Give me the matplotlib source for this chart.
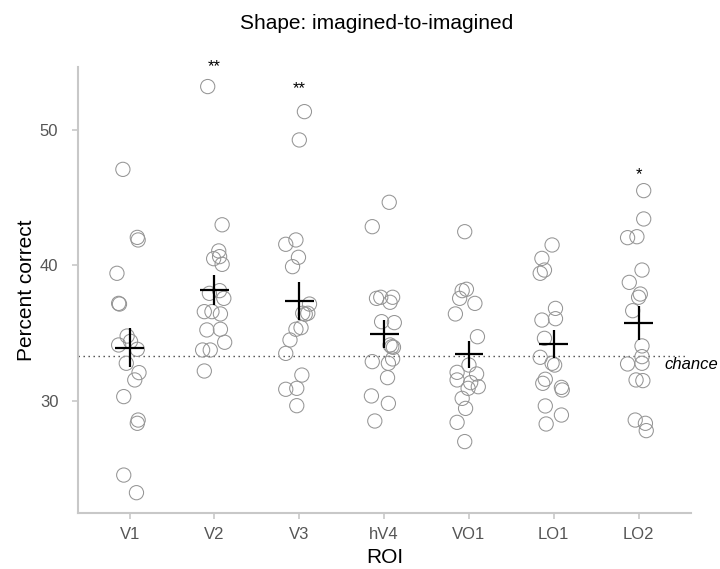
import numpy as np
import matplotlib
matplotlib.use("Agg")
import matplotlib.pyplot as plt

plt.rcParams["font.family"] = ["Liberation Sans", "DejaVu Sans"]

# ---- data ----
rois = ["V1", "V2", "V3", "hV4", "VO1", "LO1", "LO2"]

v1 = [47.09, 42.07, 41.88, 39.42, 37.20, 37.15, 34.79, 34.40, 34.13,
      33.81, 32.78, 32.09, 31.55, 30.32, 28.59, 28.35, 24.53, 23.23]
v2 = [53.20, 43.00, 41.07, 40.50, 40.65, 40.08, 37.94, 38.14, 37.57,
      36.59, 36.59, 36.42, 35.24, 35.29, 34.33, 33.76, 33.76, 32.21]
v3 = [51.35, 49.26, 41.56, 41.88, 40.60, 39.91, 37.15, 36.47, 36.47,
      36.40, 35.29, 35.41, 34.50, 33.51, 31.91, 30.86, 30.93, 29.65]
hv4 = [44.66, 42.86, 37.57, 37.65, 37.65, 37.28, 35.85, 35.78, 34.13,
       33.96, 34.00, 33.10, 32.90, 32.78, 31.72, 30.37, 29.82, 28.52]
vo1 = [42.49, 38.24, 38.14, 37.57, 37.20, 36.42, 34.74, 32.65, 32.11,
       31.99, 31.55, 31.35, 31.05, 30.93, 30.19, 29.45, 28.42, 27.00]
lo1 = [41.51, 40.52, 39.66, 39.42, 36.83, 35.97, 36.07, 34.62, 33.22,
       32.78, 32.65, 31.60, 31.30, 31.00, 30.81, 29.63, 28.96, 28.30]
lo2 = [45.52, 43.43, 42.05, 42.12, 39.66, 38.75, 37.89, 37.65, 36.66,
       34.06, 33.27, 32.73, 32.78, 31.55, 31.50, 28.59, 28.35, 27.81]

# horizontal jitter of each subject point (fraction of category spacing)
jit_v1 = [-0.08, 0.09, 0.10, -0.15, -0.13, -0.12, -0.03, 0.01, -0.13,
          0.09, -0.04, 0.11, 0.06, -0.07, 0.10, 0.09, -0.07, 0.08]
jit_v2 = [-0.08, 0.09, 0.05, -0.01, 0.06, 0.09, -0.06, 0.06, 0.11,
          -0.12, -0.03, 0.07, -0.09, 0.07, 0.12, -0.14, -0.05, -0.12]
jit_v3 = [0.06, 0.00, -0.16, -0.04, -0.01, -0.08, 0.12, 0.04, 0.10,
          0.07, -0.04, 0.02, -0.11, -0.16, 0.03, -0.16, -0.03, -0.03]
jit_hv4 = [0.06, -0.14, -0.09, -0.04, 0.10, 0.07, -0.03, 0.12, 0.07,
           0.11, 0.09, 0.10, -0.14, 0.05, 0.04, -0.15, 0.05, -0.11]
jit_vo1 = [-0.05, -0.03, -0.08, -0.11, 0.07, -0.16, 0.10, 0.00, -0.14,
           0.09, -0.14, 0.02, 0.11, -0.01, -0.08, -0.04, -0.14, -0.05]
jit_lo1 = [-0.02, -0.14, -0.11, -0.16, 0.02, -0.14, 0.02, -0.11, -0.16,
           -0.02, 0.01, -0.10, -0.13, 0.09, 0.10, -0.10, 0.09, -0.09]
jit_lo2 = [0.06, 0.06, -0.13, -0.02, 0.04, -0.11, 0.02, 0.00, -0.07,
           0.04, 0.04, -0.13, 0.04, -0.03, 0.05, -0.04, 0.08, 0.09]

means = [33.93, 38.19, 37.40, 34.94, 33.44, 34.18, 35.73]
sems = [1.42, 1.12, 1.40, 1.05, 1.02, 1.03, 1.25]
stars = ["", "**", "**", "", "", "", "*"]
star_y = [0, 54.35, 52.75, 0, 0, 0, 46.35]
chance = 100 / 3

values = [v1, v2, v3, hv4, vo1, lo1, lo2]
jitters = [jit_v1, jit_v2, jit_v3, jit_hv4, jit_vo1, jit_lo1, jit_lo2]

# ---- plot ----
fig = plt.figure(figsize=(7.2, 5.69), dpi=100)
ax = fig.add_axes([0.108, 0.0984, 0.852, 0.784])

x = np.arange(len(rois))
for i, (vals, jit) in enumerate(zip(values, jitters)):
    ax.scatter(i + np.array(jit), vals, s=105, facecolors="none",
               edgecolors="#959595", linewidths=0.75, zorder=2)

ax.plot([-0.612, 6.55], [chance, chance], color="#444444", lw=1.0,
        ls=(0, (1, 2.6)), zorder=1)
ax.text(6.30, 32.66, "chance", style="italic", fontsize=12, ha="left",
        va="center", clip_on=False)

means = np.array(means)
sems = np.array(sems)
ax.hlines(means, x - 0.17, x + 0.17, color="black", lw=1.6, zorder=3)
ax.vlines(x, means - sems, means + sems, color="black", lw=1.6, zorder=3)

for i, s in enumerate(stars):
    if s:
        ax.text(i, star_y[i], s, ha="center", va="baseline", fontsize=12)

ax.set_xlim(-0.612, 6.62)
ax.set_ylim(21.73, 54.65)
ax.set_xticks(x)
ax.set_xticklabels(rois)
ax.set_yticks([30, 40, 50])

for side in ["top", "right"]:
    ax.spines[side].set_visible(False)
for side in ["left", "bottom"]:
    ax.spines[side].set_color("#c8c8c8")
    ax.spines[side].set_linewidth(1.5)
ax.tick_params(colors="#c8c8c8", labelcolor="#555555", labelsize=12,
               length=4, width=1.2)
ax.tick_params(axis="x", pad=6)
ax.tick_params(axis="y", pad=10)

ax.set_xlabel("ROI", fontsize=15, labelpad=4.5)
ax.set_ylabel("Percent correct", fontsize=15, labelpad=3)
fig.suptitle("Shape: imagined-to-imagined", fontsize=15, x=0.523, y=0.975)

fig.savefig("out.png", dpi=100)
